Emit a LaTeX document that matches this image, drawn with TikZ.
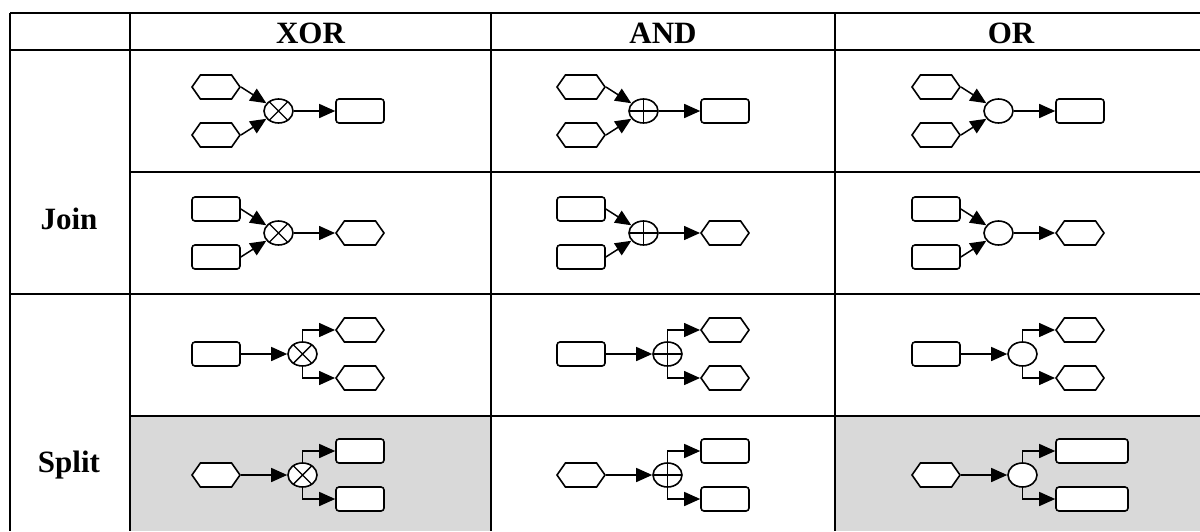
\documentclass[tikz,border=0pt]{standalone}
\usepackage{fontspec}
\setmainfont{Liberation Serif}
\usetikzlibrary{arrows.meta,shapes.geometric,shapes.symbols}
\definecolor{cellgray}{HTML}{D9D9D9}

\begin{document}
\begin{tikzpicture}[x=1pt,y=-1pt,
    evt/.style={signal, signal to=east and west, signal pointer angle=110,
        draw, fill=white, line width=1.6pt, minimum width=48pt, minimum height=24pt, inner sep=0pt},
    fct/.style={rectangle, rounded corners=3pt, draw, fill=white, line width=1.6pt,
        minimum width=48pt, minimum height=24pt, inner sep=0pt},
    gate/.style={ellipse, draw, fill=white, line width=1.6pt,
        minimum width=29pt, minimum height=24pt, inner sep=0pt},
    xorgate/.style={gate, path picture={
        \draw[line width=1.4pt] ([shift={(-12pt,-12pt)}]path picture bounding box.center) -- ([shift={(12pt,12pt)}]path picture bounding box.center)
            ([shift={(-12pt,12pt)}]path picture bounding box.center) -- ([shift={(12pt,-12pt)}]path picture bounding box.center);}},
    andgate/.style={gate, path picture={
        \draw[line width=1.4pt] (path picture bounding box.north) -- (path picture bounding box.south)
            (path picture bounding box.west) -- (path picture bounding box.east);}},
    orgate/.style={gate},
    flow/.style={-{Triangle[length=16pt,width=14pt]}, line width=1.5pt},
    tabline/.style={line width=2.2pt},
    headtxt/.style={font=\fontsize{31}{31}\selectfont\bfseries, inner sep=0pt, anchor=base}]

\useasboundingbox (0,0) rectangle (1200,531);

% shaded cells
\fill[cellgray] (130,416) rectangle (491,531);
\fill[cellgray] (835,416) rectangle (1200,531);

% table rules
\draw[tabline] (10,13) -- (1200,13);
\draw[tabline] (10,50) -- (1200,50);
\draw[tabline] (130,172) -- (1200,172);
\draw[tabline] (10,294) -- (1200,294);
\draw[tabline] (130,416) -- (1200,416);
\foreach \cx in {10,130,491,835}
    \draw[tabline] (\cx,13) -- (\cx,531);

% headings
\node[headtxt] (hx) at (310.5,43) {XOR};
\node[headtxt] (ha) at (663,43) {AND};
\node[headtxt] (ho) at (1011,43) {OR};
\node[headtxt] (join) at (69,229) {Join};
\node[headtxt] (split) at (69,472) {Split};

\foreach \bx/\g/\n/\w in {192/xorgate/x/48, 557/andgate/a/48, 912/orgate/o/72}{
    % join: events -> function
    \node[evt] (a1\n) at (\bx+24,87) {};
    \node[evt] (b1\n) at (\bx+24,135) {};
    \node[\g] (g1\n) at (\bx+86.5,111) {};
    \node[fct] (c1\n) at (\bx+168,111) {};
    \draw[flow] (a1\n.east) -- (g1\n);
    \draw[flow] (b1\n.east) -- (g1\n);
    \draw[flow] (g1\n) -- (c1\n);

    % join: functions -> event
    \node[fct] (a2\n) at (\bx+24,209) {};
    \node[fct] (b2\n) at (\bx+24,257) {};
    \node[\g] (g2\n) at (\bx+86.5,233) {};
    \node[evt] (c2\n) at (\bx+168,233) {};
    \draw[flow] (a2\n.east) -- (g2\n);
    \draw[flow] (b2\n.east) -- (g2\n);
    \draw[flow] (g2\n) -- (c2\n);

    % split: function -> events
    \node[fct] (a3\n) at (\bx+24,354) {};
    \node[\g] (g3\n) at (\bx+110.5,354) {};
    \node[evt] (b3\n) at (\bx+168,330) {};
    \node[evt] (c3\n) at (\bx+168,378) {};
    \draw[flow] (a3\n) -- (g3\n);
    \draw[flow] (g3\n.north) |- (b3\n.west);
    \draw[flow] (g3\n.south) |- (c3\n.west);

    % split: event -> functions
    \node[evt] (a4\n) at (\bx+24,475) {};
    \node[\g] (g4\n) at (\bx+110.5,475) {};
    \node[fct, minimum width=\w pt] (b4\n) at (\bx+144+\w/2,451) {};
    \node[fct, minimum width=\w pt] (c4\n) at (\bx+144+\w/2,499) {};
    \draw[flow] (a4\n) -- (g4\n);
    \draw[flow] (g4\n.north) |- (b4\n.west);
    \draw[flow] (g4\n.south) |- (c4\n.west);
}
\end{tikzpicture}
\end{document}
